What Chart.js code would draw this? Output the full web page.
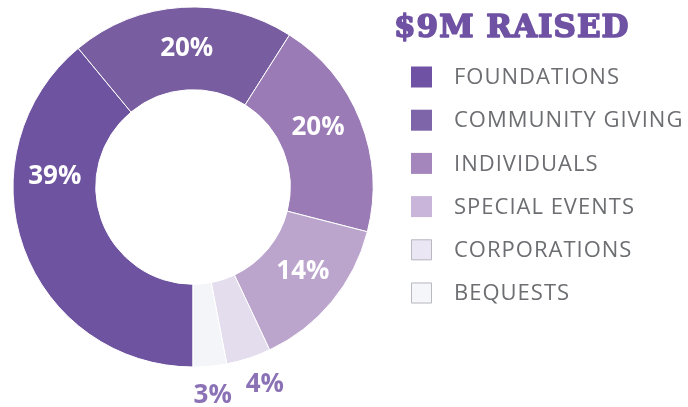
<!DOCTYPE html>
<html>
<head>
<meta charset="utf-8">
<script src="https://cdn.jsdelivr.net/npm/chart.js@4"></script>
<style>
  html, body { margin: 0; padding: 0; background: #fff; }
  #wrap { width: 688px; height: 407px; position: relative; }
</style>
</head>
<body>
<div id="wrap"><canvas id="grafico"></canvas></div>
<script>
// Dados
const titulo = "$9M RAISED";
const categorias = ["FOUNDATIONS", "COMMUNITY GIVING", "INDIVIDUALS", "SPECIAL EVENTS", "CORPORATIONS", "BEQUESTS"];
const percentuais = [39, 20, 20, 14, 4, 3];
const cores = ["#6e53a0", "#785da0", "#9a7bb5", "#bba5cd", "#e3ddee", "#f4f5f9"];
const coresLegenda = ["#6f52a3", "#7e64a8", "#a486bd", "#c9b5d9", "#ebe6f3", "#f5f6fa"];

// deslocamento angular (graus) de cada rótulo em relação ao meio da fatia
const ajusteRotulo = [24, 1, -4, -2, -2, 0];

// rótulos de porcentagem
const rotulosPlugin = {
  id: "rotulos",
  afterDatasetsDraw(chart) {
    const ctx = chart.ctx;
    const meta = chart.getDatasetMeta(0);
    ctx.save();
    ctx.textAlign = "center";
    ctx.textBaseline = "middle";
    meta.data.forEach((arc, i) => {
      const p = arc.getProps(["x", "y", "startAngle", "endAngle", "innerRadius", "outerRadius"]);
      const ang = (p.startAngle + p.endAngle) / 2 + ajusteRotulo[i] * Math.PI / 180;
      let r, cor;
      if (percentuais[i] < 5) {
        r = p.outerRadius + 30;
        cor = "#8b72b6";
      } else {
        r = (p.innerRadius + p.outerRadius) / 2;
        cor = "#ffffff";
      }
      ctx.fillStyle = cor;
      ctx.font = "bold 26px 'Open Sans'";
      ctx.fillText(percentuais[i] + "%", p.x + Math.cos(ang) * r, p.y + Math.sin(ang) * r);
    });
    ctx.restore();
  }
};

// legenda desenhada à mão
const legendaPlugin = {
  id: "legenda",
  afterDraw(chart) {
    const ctx = chart.ctx;
    ctx.save();
    ctx.fillStyle = "#6f52a3";
    ctx.strokeStyle = "#6f52a3";
    ctx.lineWidth = 1.6;
    ctx.lineJoin = "round";
    ctx.font = "bold 31px 'DejaVu Serif'";
    ctx.letterSpacing = "1px";
    ctx.textBaseline = "alphabetic";
    ctx.textAlign = "left";
    ctx.fillText(titulo, 394, 37);
    ctx.strokeText(titulo, 394, 37);

    ctx.font = "22px 'Open Sans'";
    ctx.letterSpacing = "1px";
    ctx.textBaseline = "middle";
    categorias.forEach((nome, i) => {
      const y = 77 + i * 43.2;
      ctx.fillStyle = coresLegenda[i];
      ctx.fillRect(411, y - 10.5, 21, 21);
      if (i >= 4) {
        ctx.strokeStyle = "#b9b9bf";
        ctx.lineWidth = 1;
        ctx.strokeRect(411.5, y - 10, 20, 20);
      }
      ctx.fillStyle = "#6d6e72";
      ctx.fillText(nome, 454, y + 1);
    });
    ctx.restore();
  }
};

const canvas = document.getElementById("grafico");
new Chart(canvas, {
  type: "doughnut",
  data: {
    labels: categorias,
    datasets: [{
      data: percentuais,
      backgroundColor: cores,
      borderColor: "#ffffff",
      borderWidth: 1,
      hoverOffset: 0
    }]
  },
  options: {
    responsive: true,
    maintainAspectRatio: false,
    animation: false,
    rotation: 180,
    radius: 180,
    cutout: 97,
    layout: { padding: { left: 13, right: 315, top: 7, bottom: 40 } },
    plugins: {
      legend: { display: false },
      tooltip: { enabled: false }
    }
  },
  plugins: [rotulosPlugin, legendaPlugin]
});
</script>
</body>
</html>
